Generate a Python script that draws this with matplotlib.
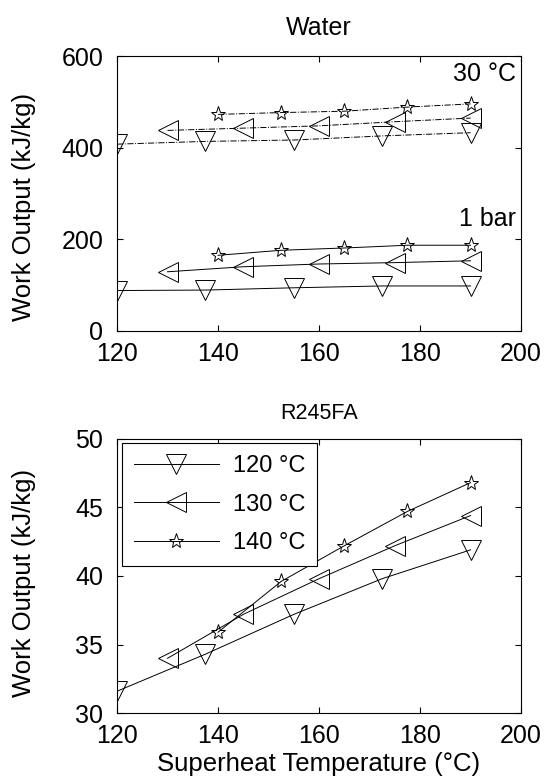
import matplotlib
matplotlib.use("Agg")
from matplotlib import pyplot as plt

plt.rcParams['font.family'] = ['Liberation Sans', 'DejaVu Sans']

# superheat temperatures for each evaporation temperature
x120 = [120, 137.5, 155, 172.5, 190]
x130 = [130, 145, 160, 175, 190]
x140 = [140, 152.5, 165, 177.5, 190]

# water, 1 bar condenser
w1_120 = [88, 89, 94, 98, 98]
w1_130 = [129, 140, 146, 149, 153]
w1_140 = [165, 176, 181, 187, 187]

# water, 30 C condenser
w30_120 = [408, 414, 417, 426, 433]
w30_130 = [438, 443, 448, 457, 465]
w30_140 = [473, 477, 480, 489, 496]

# R245FA
r_120 = [31.6, 34.3, 37.2, 39.8, 41.9]
r_130 = [34.0, 37.2, 39.8, 42.2, 44.4]
r_140 = [35.9, 39.6, 42.2, 44.7, 46.8]

labels = ["120 \u00b0C", "130 \u00b0C", "140 \u00b0C"]
markers = ["v", "<", "*"]
msizes = [15, 15, 11]

fig = plt.figure(figsize=(5.52, 7.82), dpi=100)
ax1 = fig.add_axes([0.212, 0.577, 0.732, 0.351])
ax2 = fig.add_axes([0.212, 0.088, 0.732, 0.351])

xs = [x120, x130, x140]
for x, y, m, s in zip(xs, [w1_120, w1_130, w1_140], markers, msizes):
    ax1.plot(x, y, color="k", lw=0.7, marker=m, ms=s, mfc="none", mew=0.7)
for x, y, m, s in zip(xs, [w30_120, w30_130, w30_140], markers, msizes):
    ax1.plot(x, y, color="k", lw=0.7, ls="-.", marker=m, ms=s, mfc="none", mew=0.7)

ax1.set_xlim(120, 200)
ax1.set_ylim(0, 600)
ax1.set_yticks([0, 200, 400, 600])
ax1.set_xticks([120, 140, 160, 180, 200])
ax1.set_title("Water", fontsize=18, pad=15)
ax1.set_ylabel("Work Output (kJ/kg)", fontsize=18.5)
ax1.yaxis.set_label_coords(-0.2, 0.45)
ax1.text(199, 562, "30 \u00b0C", fontsize=18, ha="right", va="center")
ax1.text(199, 245, "1 bar", fontsize=18, ha="right", va="center")

for x, y, m, s, lab in zip(xs, [r_120, r_130, r_140], markers, msizes, labels):
    ax2.plot(x, y, color="k", lw=0.7, marker=m, ms=s, mfc="none", mew=0.7, label=lab)

ax2.set_xlim(120, 200)
ax2.set_ylim(30, 50)
ax2.set_yticks([30, 35, 40, 45, 50])
ax2.set_xticks([120, 140, 160, 180, 200])
ax2.set_title("R245FA", fontsize=15.5, pad=14)
ax2.set_ylabel("Work Output (kJ/kg)", fontsize=18.5)
ax2.yaxis.set_label_coords(-0.2, 0.475)
ax2.set_xlabel("Superheat Temperature (\u00b0C)", fontsize=18.5, labelpad=3)
leg = ax2.legend(loc="upper left", fontsize=17, fancybox=False, edgecolor="k",
                 framealpha=1, handlelength=3.6, handletextpad=0.6,
                 borderaxespad=0.2, labelspacing=0.7, borderpad=0.5)
leg.get_frame().set_linewidth(0.8)

for ax in (ax1, ax2):
    ax.tick_params(direction="in", top=True, right=True, labelsize=18, length=4, width=0.8)
    ax.tick_params(axis="y", pad=10)
    ax.tick_params(axis="x", pad=8)
    for sp in ax.spines.values():
        sp.set_linewidth(0.8)

fig.savefig("out.png", dpi=100)
